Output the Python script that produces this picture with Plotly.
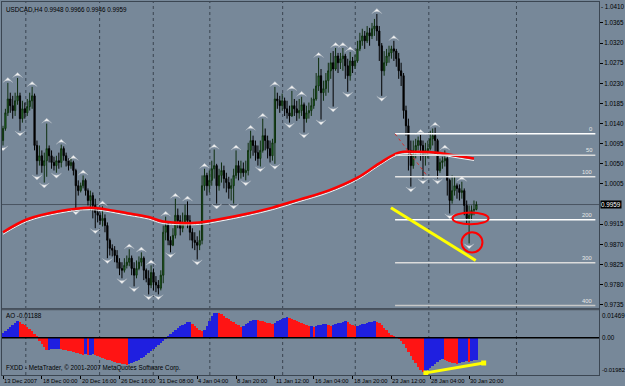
import plotly.graph_objects as go

# ---------------- data ----------------
symbol_title = "USDCAD,H4 0.9948 0.9966 0.9946 0.9959"
ao_title = "AO -0.01188"
copyright_text = "FXDD - MetaTrader, © 2001-2007 MetaQuotes Software Corp."

opens = [
    1.0102, 1.0129, 1.0164, 1.0195, 1.0180, 1.0169, 1.0191, 1.0202, 1.0151, 1.0173,
    1.0164, 1.0178, 1.0191, 1.0202, 1.0091, 1.0057, 1.0068, 1.0046, 1.0057, 1.0084,
    1.0068, 1.0053, 1.0046, 1.0057, 1.0053, 1.0084, 1.0068, 1.0057, 1.0046, 1.0053,
    1.0035, 1.0001, 0.9990, 1.0001, 1.0013, 0.9990, 0.9968, 0.9979, 0.9957, 0.9941,
    0.9935, 0.9923, 0.9928, 0.9912, 0.9879, 0.9861, 0.9857, 0.9845, 0.9830, 0.9816,
    0.9812, 0.9823, 0.9830, 0.9839, 0.9816, 0.9801, 0.9816, 0.9830, 0.9839, 0.9812,
    0.9794, 0.9779, 0.9807, 0.9785, 0.9779, 0.9772, 0.9801, 0.9897, 0.9912, 0.9879,
    0.9868, 0.9890, 0.9935, 0.9923, 0.9906, 0.9919, 0.9935, 0.9923, 0.9897, 0.9879,
    0.9874, 0.9868, 0.9879, 1.0001, 1.0024, 1.0001, 1.0013, 1.0039, 1.0046, 1.0001,
    1.0024, 1.0035, 1.0017, 1.0008, 0.9995, 1.0001, 1.0024, 1.0046, 1.0030, 1.0039,
    1.0030, 1.0035, 1.0080, 1.0102, 1.0091, 1.0075, 1.0062, 1.0080, 1.0113, 1.0102,
    1.0084, 1.0068, 1.0097, 1.0195, 1.0191, 1.0180, 1.0191, 1.0173, 1.0164, 1.0157,
    1.0180, 1.0173, 1.0164, 1.0169, 1.0182, 1.0151, 1.0164, 1.0169, 1.0180, 1.0195,
    1.0224, 1.0247, 1.0209, 1.0218, 1.0236, 1.0258, 1.0276, 1.0262, 1.0291, 1.0276,
    1.0285, 1.0291, 1.0269, 1.0247, 1.0280, 1.0269, 1.0280, 1.0307, 1.0325, 1.0336,
    1.0325, 1.0343, 1.0336, 1.0352, 1.0358, 1.0347, 1.0314, 1.0258, 1.0276, 1.0291,
    1.0298, 1.0307, 1.0302, 1.0285, 1.0258, 1.0247, 1.0169, 1.0135, 1.0080, 1.0046,
    1.0080, 1.0091, 1.0102, 1.0091, 1.0068, 1.0080, 1.0084, 1.0106, 1.0113, 1.0102,
    1.0035, 1.0053, 1.0057, 1.0062, 1.0013, 0.9968, 0.9990, 1.0001, 0.9995, 0.9986,
    0.9990, 0.9957, 0.9928, 0.9935, 0.9946, 0.9948,
]
highs = [
    1.0135, 1.0173, 1.0231, 1.0209, 1.0202, 1.0209, 1.0242, 1.0209, 1.0191, 1.0187,
    1.0195, 1.0209, 1.0222, 1.0207, 1.0102, 1.0091, 1.0080, 1.0075, 1.0140, 1.0091,
    1.0080, 1.0066, 1.0068, 1.0075, 1.0093, 1.0089, 1.0075, 1.0062, 1.0064, 1.0057,
    1.0039, 1.0013, 1.0008, 1.0024, 1.0017, 0.9995, 0.9990, 0.9986, 0.9972, 0.9950,
    0.9941, 0.9955, 0.9937, 0.9919, 0.9883, 0.9870, 0.9866, 0.9857, 0.9839, 0.9830,
    0.9839, 0.9845, 0.9859, 0.9845, 0.9830, 0.9834, 0.9843, 0.9852, 0.9843, 0.9816,
    0.9812, 0.9823, 0.9816, 0.9799, 0.9790, 0.9812, 0.9912, 0.9932, 0.9919, 0.9888,
    0.9906, 0.9972, 0.9950, 0.9935, 0.9941, 0.9959, 0.9966, 0.9935, 0.9906, 0.9897,
    0.9888, 0.9901, 1.0024, 1.0039, 1.0030, 1.0035, 1.0057, 1.0082, 1.0050, 1.0039,
    1.0053, 1.0046, 1.0030, 1.0021, 1.0017, 1.0039, 1.0080, 1.0057, 1.0057, 1.0053,
    1.0057, 1.0097, 1.0124, 1.0113, 1.0102, 1.0091, 1.0102, 1.0151, 1.0129, 1.0113,
    1.0102, 1.0106, 1.0222, 1.0209, 1.0202, 1.0207, 1.0198, 1.0191, 1.0180, 1.0213,
    1.0195, 1.0191, 1.0195, 1.0200, 1.0187, 1.0180, 1.0187, 1.0198, 1.0218, 1.0253,
    1.0287, 1.0262, 1.0236, 1.0253, 1.0276, 1.0298, 1.0302, 1.0309, 1.0298, 1.0298,
    1.0309, 1.0296, 1.0285, 1.0300, 1.0289, 1.0294, 1.0325, 1.0343, 1.0352, 1.0347,
    1.0358, 1.0354, 1.0365, 1.0374, 1.0385, 1.0358, 1.0320, 1.0302, 1.0307, 1.0314,
    1.0314, 1.0325, 1.0307, 1.0298, 1.0276, 1.0253, 1.0180, 1.0151, 1.0102, 1.0102,
    1.0106, 1.0111, 1.0115, 1.0102, 1.0097, 1.0102, 1.0124, 1.0129, 1.0131, 1.0106,
    1.0062, 1.0066, 1.0080, 1.0066, 1.0017, 1.0024, 1.0021, 1.0006, 1.0004, 1.0010,
    0.9995, 0.9968, 0.9957, 0.9957, 0.9968, 0.9966,
]
lows = [
    1.0091, 1.0124, 1.0157, 1.0164, 1.0151, 1.0157, 1.0182, 1.0124, 1.0142, 1.0151,
    1.0157, 1.0169, 1.0173, 1.0080, 1.0026, 1.0046, 1.0030, 1.0008, 1.0021, 1.0053,
    1.0039, 1.0035, 1.0030, 1.0039, 1.0042, 1.0057, 1.0044, 1.0035, 1.0039, 1.0024,
    0.9948, 0.9979, 0.9986, 0.9995, 0.9979, 0.9957, 0.9946, 0.9928, 0.9906, 0.9919,
    0.9914, 0.9910, 0.9897, 0.9839, 0.9845, 0.9843, 0.9830, 0.9816, 0.9801, 0.9794,
    0.9807, 0.9816, 0.9821, 0.9801, 0.9776, 0.9794, 0.9812, 0.9821, 0.9790, 0.9785,
    0.9758, 0.9772, 0.9767, 0.9763, 0.9758, 0.9767, 0.9783, 0.9879, 0.9868, 0.9852,
    0.9866, 0.9883, 0.9906, 0.9890, 0.9897, 0.9912, 0.9906, 0.9879, 0.9861, 0.9857,
    0.9836, 0.9857, 0.9870, 0.9990, 0.9979, 0.9986, 1.0001, 1.0017, 0.9961, 0.9990,
    1.0008, 0.9995, 0.9986, 0.9972, 0.9968, 0.9961, 1.0017, 1.0013, 1.0017, 1.0021,
    1.0013, 1.0024, 1.0062, 1.0068, 1.0057, 1.0046, 1.0044, 1.0075, 1.0080, 1.0062,
    1.0053, 1.0057, 1.0050, 1.0173, 1.0164, 1.0169, 1.0157, 1.0151, 1.0142, 1.0155,
    1.0157, 1.0146, 1.0151, 1.0157, 1.0120, 1.0142, 1.0151, 1.0157, 1.0173, 1.0191,
    1.0213, 1.0149, 1.0191, 1.0202, 1.0209, 1.0240, 1.0178, 1.0258, 1.0253, 1.0262,
    1.0258, 1.0240, 1.0211, 1.0236, 1.0253, 1.0262, 1.0276, 1.0302, 1.0314, 1.0307,
    1.0320, 1.0314, 1.0329, 1.0336, 1.0325, 1.0280, 1.0202, 1.0247, 1.0269, 1.0276,
    1.0285, 1.0280, 1.0267, 1.0240, 1.0224, 1.0151, 1.0113, 1.0035, 0.9999, 1.0039,
    1.0062, 1.0080, 1.0057, 1.0017, 1.0046, 1.0062, 1.0080, 1.0091, 1.0068, 1.0017,
    1.0030, 1.0039, 1.0044, 0.9979, 0.9939, 0.9961, 0.9979, 0.9972, 0.9968, 0.9972,
    0.9935, 0.9914, 0.9872, 0.9923, 0.9935, 0.9946,
]
closes = [
    1.0129, 1.0164, 1.0195, 1.0180, 1.0169, 1.0191, 1.0202, 1.0151, 1.0173, 1.0164,
    1.0178, 1.0191, 1.0202, 1.0091, 1.0057, 1.0068, 1.0046, 1.0057, 1.0084, 1.0068,
    1.0053, 1.0046, 1.0057, 1.0053, 1.0084, 1.0068, 1.0057, 1.0046, 1.0053, 1.0035,
    1.0001, 0.9990, 1.0001, 1.0013, 0.9990, 0.9968, 0.9979, 0.9957, 0.9941, 0.9935,
    0.9923, 0.9928, 0.9912, 0.9879, 0.9861, 0.9857, 0.9845, 0.9830, 0.9816, 0.9812,
    0.9823, 0.9830, 0.9839, 0.9816, 0.9801, 0.9816, 0.9830, 0.9839, 0.9812, 0.9794,
    0.9779, 0.9807, 0.9785, 0.9779, 0.9772, 0.9801, 0.9897, 0.9912, 0.9879, 0.9868,
    0.9890, 0.9935, 0.9923, 0.9906, 0.9919, 0.9935, 0.9923, 0.9897, 0.9879, 0.9874,
    0.9868, 0.9879, 1.0001, 1.0024, 1.0001, 1.0013, 1.0039, 1.0046, 1.0001, 1.0024,
    1.0035, 1.0017, 1.0008, 0.9995, 1.0001, 1.0024, 1.0046, 1.0030, 1.0039, 1.0030,
    1.0035, 1.0080, 1.0102, 1.0091, 1.0075, 1.0062, 1.0080, 1.0113, 1.0102, 1.0084,
    1.0068, 1.0097, 1.0195, 1.0191, 1.0180, 1.0191, 1.0173, 1.0164, 1.0157, 1.0180,
    1.0173, 1.0164, 1.0169, 1.0182, 1.0151, 1.0164, 1.0169, 1.0180, 1.0195, 1.0224,
    1.0247, 1.0209, 1.0218, 1.0236, 1.0258, 1.0276, 1.0262, 1.0291, 1.0276, 1.0285,
    1.0291, 1.0269, 1.0247, 1.0280, 1.0269, 1.0280, 1.0307, 1.0325, 1.0336, 1.0325,
    1.0343, 1.0336, 1.0352, 1.0358, 1.0347, 1.0314, 1.0258, 1.0276, 1.0291, 1.0298,
    1.0307, 1.0302, 1.0285, 1.0258, 1.0247, 1.0169, 1.0135, 1.0080, 1.0046, 1.0080,
    1.0091, 1.0102, 1.0091, 1.0068, 1.0080, 1.0084, 1.0106, 1.0113, 1.0102, 1.0035,
    1.0053, 1.0057, 1.0062, 1.0013, 0.9968, 0.9990, 1.0001, 0.9995, 0.9986, 0.9990,
    0.9957, 0.9928, 0.9935, 0.9946, 0.9948, 0.9959,
]
ao_values = [
    0.00265, 0.00371, 0.00477, 0.00583, 0.00689, 0.00795, 0.00901, 0.00848, 0.00742, 0.00689,
    0.00583, 0.00477, 0.00371, 0.00212, 0.00053, -0.00159, -0.00318, -0.00477, -0.00663, -0.00636,
    -0.00625, -0.00610, -0.00594, -0.00583, -0.00610, -0.00636, -0.00668, -0.00700, -0.00731, -0.00763,
    -0.00795, -0.00827, -0.00859, -0.00901, -0.00875, -0.00928, -0.00901, -0.00875, -0.00901, -0.00954,
    -0.01007, -0.01060, -0.01113, -0.01166, -0.01219, -0.01261, -0.01299, -0.01336, -0.01378, -0.01410,
    -0.01431, -0.01458, -0.01405, -0.01352, -0.01299, -0.01235, -0.01166, -0.01087, -0.01007, -0.00928,
    -0.00822, -0.00716, -0.00610, -0.00504, -0.00398, -0.00292, -0.00159, -0.00027, 0.00106, 0.00212,
    0.00318, 0.00424, 0.00530, 0.00610, 0.00663, 0.00742, 0.00806, 0.00848, 0.00742, 0.00636,
    0.00530, 0.00424, 0.00345, 0.00424, 0.00636, 0.00901, 0.01166, 0.01299, 0.01325, 0.01304,
    0.01246, 0.01166, 0.01060, 0.00981, 0.00901, 0.00822, 0.00742, 0.00663, 0.00583, 0.00636,
    0.00716, 0.00795, 0.00875, 0.00928, 0.00954, 0.00933, 0.00901, 0.00864, 0.00827, 0.00795,
    0.00763, 0.00742, 0.00795, 0.00875, 0.00954, 0.01007, 0.01049, 0.01076, 0.01034, 0.00981,
    0.00928, 0.00875, 0.00822, 0.00769, 0.00716, 0.00663, 0.00610, 0.00636, 0.00583, 0.00620,
    0.00652, 0.00689, 0.00716, 0.00742, 0.00663, 0.00610, 0.00663, 0.00716, 0.00758, 0.00795,
    0.00827, 0.00859, 0.00822, 0.00742, 0.00663, 0.00594, 0.00625, 0.00663, 0.00700, 0.00742,
    0.00774, 0.00806, 0.00832, 0.00859, 0.00837, 0.00769, 0.00663, 0.00530, 0.00398, 0.00265,
    0.00159, 0.00080, 0.00027, -0.00053, -0.00159, -0.00318, -0.00530, -0.00742, -0.00954, -0.01166,
    -0.01378, -0.01590, -0.01749, -0.01855, -0.01802, -0.01723, -0.01617, -0.01511, -0.01405, -0.01299,
    -0.01193, -0.01140, -0.01193, -0.01246, -0.01299, -0.01336, -0.01368, -0.01389, -0.01352, -0.01325,
    -0.01299, -0.01272, -0.01299, -0.01246, -0.01219, -0.01188,
]
up_fractal_bars = [2, 6, 12, 18, 24, 29, 33, 41, 52, 57, 61, 67, 71, 76, 83, 87, 96, 102,
                   107, 112, 119, 123, 130, 137, 140, 143, 154, 161, 172, 178, 182, 189]
down_fractal_bars = [0, 7, 14, 17, 22, 30, 38, 43, 49, 54, 60, 64, 69, 80, 88, 95, 100, 106,
                     112, 118, 124, 131, 136, 142, 156, 168, 173, 179, 184, 192]
ma_bars = [0, 10, 23, 36, 52, 60, 66, 81, 89, 101, 111, 122, 134, 146, 155, 163, 171, 179, 187, 194]
ma_values = [0.9897, 0.9926, 0.9944, 0.9952, 0.9939, 0.9931, 0.9921, 0.9919, 0.9926, 0.9939,
             0.9952, 0.9970, 0.9990, 1.0019, 1.0051, 1.0075, 1.0077, 1.0075, 1.0068, 1.0062]

time_labels = ["13 Dec 2007", "18 Dec 00:00", "20 Dec 16:00", "26 Dec 16:00", "31 Dec 08:00",
               "4 Jan 04:00", "8 Jan 20:00", "11 Jan 12:00", "16 Jan 04:00", "18 Jan 20:00",
               "23 Jan 12:00", "28 Jan 04:00", "30 Jan 20:00"]
time_label_bars = [0, 16, 32, 48, 64, 80, 96, 112, 128, 144, 160, 176, 192]
price_top_label = 1.0410
price_ticks = [1.0365, 1.0320, 1.0275, 1.0230, 1.0185, 1.0140, 1.0095, 1.0050,
               1.0005, 0.9915, 0.9870, 0.9825, 0.9780, 0.9735]
ao_max = 0.01469
ao_min = -0.01982
ao_label_texts = ["0.01469", "0.00", "-0.01982"]
grid_bars = [9.4, 39.8, 61.9, 85.2, 115.2, 145.1, 175.4, 211.5]

fib_levels = [0, 50, 100, 200, 300, 400]
fib_price_0 = 1.0117
fib_price_100 = 1.0021
fib_start_bar = 161.5
fib_base_bars = [161.5, 175.0]

trend_main_bars = [159.8, 194.7]
trend_main_prices = [0.9952, 0.9834]
ao_trend_bars = [174.2, 198.0]
ao_trend_values = [-0.0187, -0.0134]
ellipse_boxes = [(185.2, 200.0, 0.9915, 0.9941), (188.9, 197.5, 0.9852, 0.9897)]

# ---------------- styling ----------------
BG = "#778899"
FRAME = "#3b4652"
FONT = "Liberation Sans"
X_RANGE = [-0.41, 245.5]
MAIN_DOM = [0.1791, 1.0]
AO_DOM = [0.0, 0.1738]

bars = list(range(len(closes)))
assert len(opens) == len(highs) == len(lows) == len(closes) == len(ao_values)

fig = go.Figure()

fig.add_trace(go.Scatter(x=ma_bars, y=[v - 0.00045 for v in ma_values], mode="lines",
                         line=dict(color="#f4f4f4", width=1, shape="spline"),
                         hoverinfo="skip", showlegend=False))
fig.add_trace(go.Scatter(x=ma_bars, y=ma_values, mode="lines",
                         line=dict(color="#ff0000", width=2.5, shape="spline"),
                         hoverinfo="skip", showlegend=False))

fig.add_trace(go.Candlestick(
    x=bars, open=opens, high=highs, low=lows, close=closes,
    increasing=dict(line=dict(color="#0f2f0f", width=1), fillcolor="#2b8f2b"),
    decreasing=dict(line=dict(color="#000000", width=1), fillcolor="#000000"),
    whiskerwidth=0, hoverinfo="skip", showlegend=False))

fig.add_trace(go.Scatter(
    x=up_fractal_bars, y=[highs[i] + 0.0012 for i in up_fractal_bars], mode="markers",
    marker=dict(symbol="arrow-wide", angle=0, size=7, color="#f2f2f2",
                line=dict(color="#aab4be", width=0.5)),
    hoverinfo="skip", showlegend=False))
fig.add_trace(go.Scatter(
    x=down_fractal_bars, y=[lows[i] - 0.0012 for i in down_fractal_bars], mode="markers",
    marker=dict(symbol="arrow-wide", angle=180, size=7, color="#f2f2f2",
                line=dict(color="#aab4be", width=0.5)),
    hoverinfo="skip", showlegend=False))

ao_colors = []
for i, v in enumerate(ao_values):
    if i == 0 or v > ao_values[i - 1]:
        ao_colors.append("#1f1fe0")
    else:
        ao_colors.append("#ff1414")
fig.add_trace(go.Bar(x=bars, y=ao_values, width=1.0, marker=dict(color=ao_colors, line=dict(width=0)),
                     xaxis="x2", yaxis="y2", hoverinfo="skip", showlegend=False))

fig.add_trace(go.Scatter(x=ao_trend_bars, y=ao_trend_values, mode="lines+markers",
                         line=dict(color="#ffff00", width=3),
                         marker=dict(symbol="square", size=5, color="#ffff00"),
                         xaxis="x2", yaxis="y2", hoverinfo="skip", showlegend=False))

shapes = []
for gb in grid_bars:
    shapes.append(dict(type="line", xref="x", yref="paper", x0=gb, x1=gb, y0=0, y1=1,
                       line=dict(color="#3a4450", width=1, dash="dot"), layer="below"))
shapes.append(dict(type="line", xref="paper", yref="y", x0=0, x1=1, y0=closes[-1], y1=closes[-1],
                   line=dict(color="#4a5562", width=1), layer="below"))
fib_step = fib_price_0 - fib_price_100
fib_colors = {0: "#ffffff", 50: "#dcdcdc", 100: "#e4e4e4", 200: "#ffffff", 300: "#dcdcdc", 400: "#c8c8c8"}
for lv in fib_levels:
    py = fib_price_0 - fib_step * lv / 100.0
    shapes.append(dict(type="line", xref="x", yref="y", x0=fib_start_bar, x1=X_RANGE[1] - 1.5,
                       y0=py, y1=py, line=dict(color=fib_colors[lv], width=1.5)))
shapes.append(dict(type="line", xref="x", yref="y", x0=fib_base_bars[0], x1=fib_base_bars[1],
                   y0=fib_price_0, y1=fib_price_100, line=dict(color="#d03030", width=1, dash="dot")))
shapes.append(dict(type="line", xref="x", yref="y", x0=trend_main_bars[0], x1=trend_main_bars[1],
                   y0=trend_main_prices[0], y1=trend_main_prices[1],
                   line=dict(color="#ffff00", width=3)))
for (ex0, ex1, ey0, ey1) in ellipse_boxes:
    shapes.append(dict(type="circle", xref="x", yref="y", x0=ex0, x1=ex1, y0=ey0, y1=ey1,
                       line=dict(color="#ff0000", width=2)))
shapes.append(dict(type="line", xref="paper", yref="y2", x0=0, x1=1, y0=0, y1=0,
                   line=dict(color="#000000", width=1.5)))
shapes.append(dict(type="rect", xref="paper", yref="paper", x0=0, x1=1,
                   y0=AO_DOM[1], y1=MAIN_DOM[0], fillcolor="#4b5561", line=dict(width=0)))

annotations = []
annotations.append(dict(text=symbol_title, xref="paper", yref="paper", x=0.003, y=1, xanchor="left",
                        yanchor="top", yshift=-2, showarrow=False, font=dict(size=6.3, color="#000000")))
annotations.append(dict(text=ao_title, xref="paper", yref="paper", x=0.003, y=AO_DOM[1], xanchor="left",
                        yanchor="top", yshift=0, showarrow=False, font=dict(size=6.3, color="#000000")))
annotations.append(dict(text=copyright_text, xref="paper", yref="paper", x=0.003, y=0, xanchor="left",
                        yanchor="bottom", yshift=1, showarrow=False, font=dict(size=6.3, color="#000000")))
for tb, tl in zip(time_label_bars, time_labels):
    annotations.append(dict(text=tl, xref="x2", yref="paper", x=tb, y=0, xanchor="left", yanchor="top",
                            xshift=-1, yshift=-1, showarrow=False, font=dict(size=5.8, color="#000000")))
for lv in fib_levels:
    py = fib_price_0 - fib_step * lv / 100.0
    annotations.append(dict(text=str(lv), xref="x", yref="y", x=X_RANGE[1] - 2, y=py, xanchor="right",
                            yanchor="bottom", showarrow=False, font=dict(size=5.8, color="#e8e8e8")))
annotations.append(dict(text=f"{closes[-1]:.4f}", xref="paper", yref="y", x=1, y=closes[-1],
                        xanchor="left", yanchor="middle", xshift=1, showarrow=False, bgcolor="#000000",
                        borderpad=0, font=dict(size=6.3, color="#ffffff")))
annotations.append(dict(text=f"- {price_top_label:.4f}", xref="paper", yref="paper", x=1, y=1,
                        xanchor="left", yanchor="top", xshift=0, yshift=1, showarrow=False,
                        font=dict(size=6.3, color="#000000")))
for val, txt, anchor, sz in zip([ao_max, 0.0, ao_min], ao_label_texts, ["top", "middle", "bottom"],
                                [6.3, 6.3, 5.8]):
    annotations.append(dict(text=txt, xref="paper", yref="y2", x=1, y=val, xanchor="left",
                            yanchor=anchor, xshift=1, showarrow=False,
                            font=dict(size=sz, color="#000000")))

fig.update_layout(
    width=625, height=386,
    margin=dict(l=2, r=23, t=1, b=11),
    paper_bgcolor=BG, plot_bgcolor=BG,
    font=dict(family=FONT, size=6.3, color="#000000"),
    showlegend=False, bargap=0,
    shapes=shapes, annotations=annotations,
    xaxis=dict(domain=[0, 1], range=X_RANGE, anchor="y", showticklabels=False, showgrid=False,
               zeroline=False, showline=True, mirror=True, linecolor=FRAME, linewidth=1,
               rangeslider=dict(visible=False), fixedrange=True),
    yaxis=dict(domain=MAIN_DOM, range=[0.97272, 1.04118], side="right", tickvals=price_ticks,
               ticktext=[f"{p:.4f}" for p in price_ticks], ticks="outside", ticklen=3,
               tickcolor="#000000", showgrid=False, zeroline=False, showline=True, mirror=True,
               linecolor=FRAME, linewidth=1, tickfont=dict(size=6.3, color="#000000")),
    xaxis2=dict(domain=[0, 1], range=X_RANGE, anchor="y2", tickvals=time_label_bars, ticks="outside",
                ticklen=3, tickcolor="#000000", showticklabels=False, showgrid=False, zeroline=False,
                showline=True, mirror=True, linecolor=FRAME, linewidth=1),
    yaxis2=dict(domain=AO_DOM, range=[ao_min, ao_max], side="right", showticklabels=False,
                ticks="", showgrid=False, zeroline=False, showline=True,
                mirror=True, linecolor=FRAME, linewidth=1),
)

fig.write_html("out.html")
